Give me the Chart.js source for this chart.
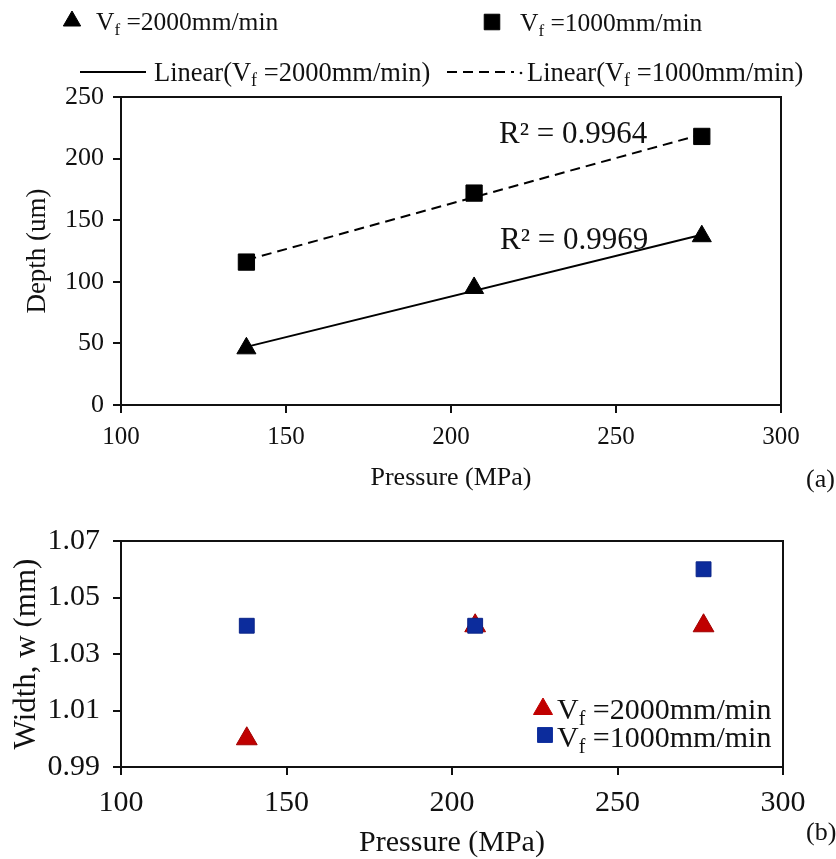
<!DOCTYPE html>
<html>
<head>
<meta charset="utf-8">
<script src="https://cdn.jsdelivr.net/npm/chart.js@4.4.1/dist/chart.umd.min.js"></script>
<style>
  html, body { margin: 0; padding: 0; background: #fff; }
  #wrap { position: relative; width: 836px; height: 859px; }
  #depthChart { position: absolute; left: 0; top: 0; }
  #widthChart { position: absolute; left: 0; top: 500px; }
</style>
</head>
<body>
<div id="wrap">
  <canvas id="depthChart" width="836" height="500"></canvas>
  <canvas id="widthChart" width="836" height="359"></canvas>
</div>
<script>
// Water-jet peening results: groove depth and width against pump pressure
const pressures = [138, 207, 276];                 // MPa
const depthFast = [46, 95, 137];                   // um, Vf = 2000 mm/min
const depthSlow = [116, 172, 218];                 // um, Vf = 1000 mm/min
const widthFast = [1.00, 1.04, 1.04];              // mm, Vf = 2000 mm/min
const widthSlow = [1.04, 1.04, 1.06];              // mm, Vf = 1000 mm/min
const pressureTicks = [100, 150, 200, 250, 300];
const depthTicks = [0, 50, 100, 150, 200, 250];
const widthTicks = [0.99, 1.01, 1.03, 1.05, 1.07];
const feedFast = '=2000mm/min';
const feedSlow = '=1000mm/min';
const r2Fast = '0.9969';
const r2Slow = '0.9964';

const SERIF = '"Liberation Serif", "Times New Roman", serif';
const INK = '#111';

function points(xs, ys) { return xs.map((x, i) => ({ x, y: ys[i] })); }

// least-squares straight line through a series, spanning its x range
function trend(xs, ys) {
  const n = xs.length;
  const mx = xs.reduce((a, b) => a + b, 0) / n;
  const my = ys.reduce((a, b) => a + b, 0) / n;
  let sxy = 0, sxx = 0;
  xs.forEach((x, i) => { sxy += (x - mx) * (ys[i] - my); sxx += (x - mx) * (x - mx); });
  const k = sxy / sxx, b = my - k * mx;
  const x0 = Math.min(...xs), x1 = Math.max(...xs);
  return [{ x: x0, y: k * x0 + b }, { x: x1, y: k * x1 + b }];
}

// text made of normal / subscript runs
function drawRich(ctx, x, y, parts, size) {
  let cx = x;
  ctx.textAlign = 'left';
  ctx.textBaseline = 'alphabetic';
  for (const [t, mode] of parts) {
    const s = mode === 'n' ? size : Math.round(size * 0.68);
    const dy = mode === 'sub' ? size * 0.2 : 0;
    ctx.font = s + 'px ' + SERIF;
    ctx.fillText(t, cx, y + dy);
    cx += ctx.measureText(t).width;
  }
  return cx;
}

function feedLabel(text) { return [['V', 'n'], ['f', 'sub'], [' ' + text, 'n']]; }

function marker(ctx, style, radius, color, x, y) {
  ctx.save();
  ctx.fillStyle = color;
  ctx.strokeStyle = color;
  ctx.lineWidth = 1;
  Chart.helpers.drawPoint(ctx, { pointStyle: style, radius, borderWidth: 1, rotation: 0 }, x, y);
  ctx.restore();
}

const frame = {
  id: 'frame',
  afterDatasetsDraw(chart) {
    const { ctx, chartArea: a } = chart;
    ctx.save();
    ctx.strokeStyle = INK;
    ctx.lineWidth = 2;
    ctx.strokeRect(a.left, a.top, a.right - a.left, a.bottom - a.top);
    ctx.restore();
  }
};

function axisX(ticks, tickSize, titleSize, tickPad, titleBottom, height) {
  return {
    type: 'linear', min: ticks[0], max: ticks[ticks.length - 1],
    afterBuildTicks: s => { s.ticks = ticks.map(v => ({ value: v })); },
    afterFit: s => { s.height = height; },
    grid: { drawOnChartArea: false, drawTicks: true, tickLength: 8, color: INK, lineWidth: 2 },
    border: { color: INK, width: 2 },
    ticks: { color: INK, padding: tickPad, maxRotation: 0, font: { family: SERIF, size: tickSize, lineHeight: 1 } },
    title: { display: true, text: 'Pressure (MPa)', color: INK, padding: { top: 0, bottom: titleBottom },
             font: { family: SERIF, size: titleSize, lineHeight: 1 } }
  };
}

function axisY(ticks, fmt, title, tickSize, tickPad, titleSize, titleTop) {
  return {
    type: 'linear', min: ticks[0], max: ticks[ticks.length - 1],
    afterBuildTicks: s => { s.ticks = ticks.map(v => ({ value: v })); },
    afterFit: s => { s.width = 121; },
    grid: { drawOnChartArea: false, drawTicks: true, tickLength: 8, color: INK, lineWidth: 2 },
    border: { color: INK, width: 2 },
    ticks: { color: INK, padding: tickPad, callback: fmt, font: { family: SERIF, size: tickSize, lineHeight: 1 } },
    title: { display: true, text: title, color: INK, padding: { top: titleTop, bottom: 0 },
             font: { family: SERIF, size: titleSize, lineHeight: 1 } }
  };
}

// ---- (a) depth ----
const depthNotes = {
  id: 'depthNotes',
  afterDraw(chart) {
    const ctx = chart.ctx;
    ctx.save();
    ctx.fillStyle = INK;
    // legend, two rows above the plot
    marker(ctx, 'triangle', 10, '#000', 72, 21);
    drawRich(ctx, 96, 30, feedLabel(feedFast), 25.5);
    marker(ctx, 'rect', 11, '#000', 492, 22);
    drawRich(ctx, 520, 31, feedLabel(feedSlow), 25.5);

    ctx.strokeStyle = '#000';
    ctx.lineWidth = 2;
    ctx.beginPath(); ctx.moveTo(80, 72); ctx.lineTo(146, 72); ctx.stroke();
    drawRich(ctx, 154, 81, [['Linear(V', 'n'], ['f', 'sub'], [' ' + feedFast + ')', 'n']], 26.5);
    ctx.setLineDash([10, 6]);
    ctx.beginPath(); ctx.moveTo(447, 72); ctx.lineTo(514, 72); ctx.stroke();
    ctx.setLineDash([]);
    ctx.beginPath(); ctx.arc(521, 73, 1.3, 0, Math.PI * 2); ctx.fill();
    drawRich(ctx, 527, 81, [['Linear(V', 'n'], ['f', 'sub'], [' ' + feedSlow + ')', 'n']], 26.5);

    // goodness of fit beside each trend line
    ctx.font = '31px ' + SERIF;
    ctx.textAlign = 'left';
    ctx.textBaseline = 'alphabetic';
    ctx.fillText('R\u00B2 = ' + r2Slow, 499, 143);
    ctx.fillText('R\u00B2 = ' + r2Fast, 500, 249);

    ctx.font = '26px ' + SERIF;
    ctx.fillText('(a)', 806, 487);
    ctx.restore();
  }
};

new Chart(document.getElementById('depthChart'), {
  type: 'scatter',
  data: {
    datasets: [
      { label: 'Vf = 2000mm/min', data: points(pressures, depthFast), pointStyle: 'triangle',
        pointRadius: 11, backgroundColor: '#000', borderColor: '#000', borderWidth: 1, order: 0 },
      { label: 'Vf = 1000mm/min', data: points(pressures, depthSlow), pointStyle: 'rect',
        pointRadius: 11.5, backgroundColor: '#000', borderColor: '#000', borderWidth: 1, order: 0 },
      { label: 'Linear (Vf = 2000mm/min)', data: trend(pressures, depthFast), showLine: true,
        pointRadius: 0, borderColor: '#000', borderWidth: 2, order: 2 },
      { label: 'Linear (Vf = 1000mm/min)', data: trend(pressures, depthSlow), showLine: true,
        pointRadius: 0, borderColor: '#000', borderWidth: 2, borderDash: [10, 6], order: 2 }
    ]
  },
  options: {
    responsive: false, animation: false, devicePixelRatio: 1,
    layout: { padding: { top: 97, right: 55, left: 0, bottom: 0 } },
    plugins: { legend: { display: false }, tooltip: { enabled: false } },
    scales: {
      x: axisX(pressureTicks, 25, 26, 12, 9, 95),
      y: axisY(depthTicks, v => v, 'Depth (um)', 26, 9, 27, 24)
    }
  },
  plugins: [frame, depthNotes]
});

// ---- (b) width ----
const widthNotes = {
  id: 'widthNotes',
  afterDraw(chart) {
    const ctx = chart.ctx;
    ctx.save();
    ctx.fillStyle = INK;
    marker(ctx, 'triangle', 11, '#c00000', 543, 209);
    drawRich(ctx, 557, 219, feedLabel(feedFast), 30);
    marker(ctx, 'rect', 10.5, '#0c2c9c', 545, 235);
    drawRich(ctx, 557, 247, feedLabel(feedSlow), 30);
    ctx.font = '26px ' + SERIF;
    ctx.fillText('(b)', 806, 340);
    ctx.restore();
  }
};

new Chart(document.getElementById('widthChart'), {
  type: 'scatter',
  data: {
    datasets: [
      { label: 'Vf = 1000mm/min', data: points(pressures, widthSlow), pointStyle: 'rect',
        pointRadius: 10.5, backgroundColor: '#0c2c9c', borderColor: '#0a2488', borderWidth: 1, order: 0 },
      { label: 'Vf = 2000mm/min', data: points(pressures, widthFast), pointStyle: 'triangle',
        pointRadius: 12, backgroundColor: '#c00000', borderColor: '#a00000', borderWidth: 1, order: 1 }
    ]
  },
  options: {
    responsive: false, animation: false, devicePixelRatio: 1,
    layout: { padding: { top: 41, right: 53, left: 0, bottom: 0 } },
    plugins: { legend: { display: false }, tooltip: { enabled: false } },
    scales: {
      x: axisX(pressureTicks, 30, 30, 13, 1, 92),
      y: axisY(widthTicks, v => v.toFixed(2), 'Width, w (mm)', 30, 13, 31, 11)
    }
  },
  plugins: [frame, widthNotes]
});
</script>
</body>
</html>
